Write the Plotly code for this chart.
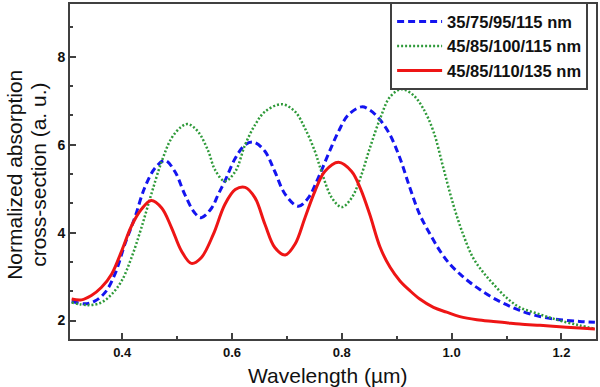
import plotly.graph_objects as go

# Data (wavelength in µm, normalized cross-section)
blue_x = [0.308, 0.332, 0.350, 0.369, 0.387, 0.405, 0.423, 0.441, 0.460, 0.478, 0.496,
          0.514, 0.532, 0.544, 0.563, 0.575, 0.587, 0.606, 0.624, 0.639, 0.660, 0.678,
          0.697, 0.721, 0.739, 0.757, 0.775, 0.794, 0.812, 0.836, 0.851, 0.870, 0.888,
          0.906, 0.924, 0.942, 0.961, 0.979, 0.997, 1.015, 1.033, 1.052, 1.076, 1.100,
          1.124, 1.161, 1.197, 1.233, 1.261]
blue_y = [2.44, 2.38, 2.44, 2.64, 3.06, 3.74, 4.34, 5.02, 5.47, 5.64, 5.39,
          4.87, 4.45, 4.34, 4.56, 4.87, 5.17, 5.69, 6.00, 6.06, 5.85, 5.39,
          4.87, 4.60, 4.79, 5.24, 5.77, 6.30, 6.68, 6.86, 6.79, 6.56, 6.22,
          5.69, 5.02, 4.41, 3.96, 3.58, 3.28, 3.06, 2.87, 2.70, 2.51, 2.36,
          2.23, 2.09, 2.02, 1.98, 1.96]

green_x = [0.308, 0.338, 0.362, 0.381, 0.399, 0.417, 0.435, 0.453, 0.472, 0.490, 0.508,
           0.520, 0.538, 0.557, 0.569, 0.587, 0.606, 0.624, 0.642, 0.660, 0.691, 0.715,
           0.733, 0.751, 0.763, 0.782, 0.800, 0.818, 0.834, 0.851, 0.870, 0.888, 0.909,
           0.930, 0.948, 0.967, 0.985, 1.003, 1.021, 1.039, 1.058, 1.076, 1.100, 1.124,
           1.161, 1.197, 1.233, 1.261]
green_y = [2.41, 2.35, 2.41, 2.60, 2.90, 3.43, 4.11, 4.87, 5.62, 6.15, 6.41,
           6.47, 6.30, 5.85, 5.43, 5.17, 5.39, 6.00, 6.45, 6.75, 6.92, 6.75,
           6.37, 5.85, 5.39, 4.79, 4.58, 4.79, 5.25, 5.92, 6.60, 7.09, 7.26,
           7.13, 6.83, 6.30, 5.47, 4.64, 3.96, 3.43, 3.09, 2.83, 2.52, 2.30,
           2.14, 2.00, 1.89, 1.81]

red_x = [0.308, 0.326, 0.344, 0.362, 0.381, 0.399, 0.417, 0.435, 0.453, 0.472, 0.490,
         0.508, 0.526, 0.544, 0.566, 0.587, 0.606, 0.624, 0.642, 0.660, 0.678, 0.697,
         0.715, 0.733, 0.751, 0.769, 0.794, 0.818, 0.834, 0.851, 0.870, 0.888, 0.906,
         0.924, 0.942, 0.967, 0.991, 1.015, 1.046, 1.076, 1.100, 1.124, 1.161, 1.197,
         1.233, 1.261]
red_y = [2.49, 2.47, 2.57, 2.75, 3.06, 3.58, 4.15, 4.53, 4.73, 4.56, 4.11,
         3.58, 3.30, 3.43, 3.96, 4.64, 4.98, 5.03, 4.79, 4.19, 3.66, 3.49,
         3.74, 4.34, 4.94, 5.39, 5.60, 5.39, 5.00, 4.41, 3.66, 3.21, 2.90,
         2.68, 2.49, 2.30, 2.19, 2.09, 2.02, 1.98, 1.95, 1.92, 1.89, 1.86,
         1.83, 1.81]

series_names = ["35/75/95/115 nm", "45/85/100/115 nm", "45/85/110/135 nm"]

x_ticks = [0.4, 0.6, 0.8, 1.0, 1.2]
x_tick_text = ["0.4", "0.6", "0.8", "1.0", "1.2"]
y_ticks = [2, 4, 6, 8]
y_tick_text = ["2", "4", "6", "8"]

FONT = "Liberation Sans, Arial, sans-serif"
FRAME = "#404040"

fig = go.Figure()
fig.add_trace(go.Scatter(x=blue_x, y=blue_y, name=series_names[0], mode="lines",
                         line=dict(color="#1414f0", width=3, dash="7px,4px", shape="spline", smoothing=1.0)))
fig.add_trace(go.Scatter(x=green_x, y=green_y, name=series_names[1], mode="lines",
                         line=dict(color="#2f9a3a", width=2.5, dash="2px,2px", shape="spline", smoothing=1.0)))
fig.add_trace(go.Scatter(x=red_x, y=red_y, name=series_names[2], mode="lines",
                         line=dict(color="#ee1515", width=3, shape="spline", smoothing=1.0)))

fig.update_layout(
    width=600, height=387,
    margin=dict(l=70, r=4, t=2, b=48),
    paper_bgcolor="white", plot_bgcolor="white",
    font=dict(family=FONT, color="#111"),
    showlegend=True,
    legend=dict(x=0.985, xanchor="right", y=1.005, yanchor="top",
                bgcolor="white", bordercolor=FRAME, borderwidth=2,
                font=dict(family=FONT, size=16.5, weight="bold", color="#111"),
                itemwidth=45, tracegroupgap=0),
    xaxis=dict(range=[0.305, 1.263], showgrid=False, zeroline=False,
               showline=True, linecolor=FRAME, linewidth=2, mirror=True,
               ticks="inside", ticklen=6, tickwidth=2, tickcolor=FRAME,
               tickvals=x_ticks, ticktext=x_tick_text,
               tickfont=dict(family=FONT, size=13, weight="bold", color="#111"),
               minor=dict(ticks="inside", ticklen=3, tickwidth=2, tickcolor=FRAME,
                          tick0=0.3, dtick=0.2)),
    yaxis=dict(range=[1.58, 9.2], showgrid=False, zeroline=False,
               showline=True, linecolor=FRAME, linewidth=2, mirror=True,
               ticks="inside", ticklen=6, tickwidth=2, tickcolor=FRAME,
               tickvals=y_ticks, ticktext=y_tick_text,
               tickfont=dict(family=FONT, size=14, weight="bold", color="#111"),
               minor=dict(ticks="inside", ticklen=3, tickwidth=2, tickcolor=FRAME,
                          tick0=2, dtick=2/3)),
)

# Axis titles as annotations (tight two-line spacing like the reference)
fig.add_annotation(text="Normalized absorption", xref="paper", yref="paper",
                   x=(15 - 70) / 526, y=0.49, textangle=-90, showarrow=False,
                   xanchor="center", yanchor="middle",
                   font=dict(family=FONT, size=21, color="#111"))
fig.add_annotation(text="cross-section (a. u.)", xref="paper", yref="paper",
                   x=(39 - 70) / 526, y=0.49, textangle=-90, showarrow=False,
                   xanchor="center", yanchor="middle",
                   font=dict(family=FONT, size=21, color="#111"))
fig.add_annotation(text="Wavelength (µm)", xref="paper", yref="paper",
                   x=0.49, y=-(375 - 338) / 337, showarrow=False,
                   xanchor="center", yanchor="middle",
                   font=dict(family=FONT, size=21, color="#111"))

fig.write_html("out.html", config={"displayModeBar": False},
               post_script="document.body.style.margin='0';")
